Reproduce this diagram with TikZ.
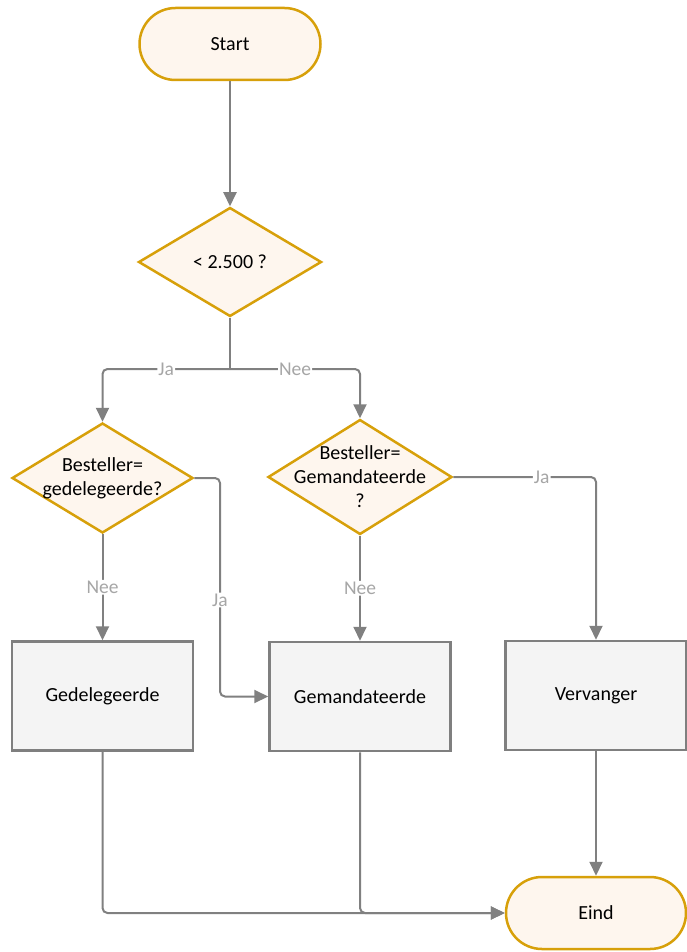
\documentclass[tikz,border=0pt]{standalone}
\usepackage{fontspec}
\setmainfont{Carlito}
\usetikzlibrary{arrows.meta,shapes.geometric}
\definecolor{gold}{HTML}{D7A00A}
\definecolor{cream}{HTML}{FEF6EE}
\definecolor{boxfill}{HTML}{F4F4F4}
\definecolor{boxline}{HTML}{7F7F7F}
\definecolor{conncol}{HTML}{808080}
\definecolor{lblcol}{HTML}{A6A6A6}
\tikzset{
  x=1pt, y=-1pt,
  every node/.style={font=\fontsize{20}{24}\selectfont},
  term/.style={draw=gold, line width=2.5pt, fill=cream, rectangle, rounded corners=36pt,
    minimum width=181pt, minimum height=72pt, inner sep=0pt},
  dec/.style={draw=gold, line width=2.5pt, fill=cream, diamond, inner sep=0pt},
  dtext/.style={align=center, inner sep=0pt},
  proc/.style={draw=boxline, line width=2.5pt, fill=boxfill, rectangle,
    minimum width=181pt, minimum height=109pt, inner sep=0pt},
  conn/.style={draw=conncol, line width=2pt, rounded corners=5pt,
    -{Triangle[length=14pt,width=13pt]}},
  plain/.style={draw=conncol, line width=2pt, rounded corners=5pt},
  lbl/.style={text=lblcol, fill=white, inner sep=1pt, font=\fontsize{19.5}{22}\selectfont},
}
\begin{document}
\begin{tikzpicture}
\useasboundingbox (0,0) rectangle (686,952);
\node[term] (start) at (230,44) {Start};
\node[dec, minimum width=183pt, minimum height=109pt] (d1) at (230,262) {};
\node[dtext] (t1) at (230,262) {< 2.500 ?};
\node[dec, minimum width=181pt, minimum height=110pt] (d2) at (102.5,478) {};
\node[dtext] (t2) at (102.5,478) {Besteller=\\gedelegeerde?};
\node[dec, minimum width=184pt, minimum height=115pt] (d3) at (360,477) {};
\node[dtext] (t3) at (360,477) {Besteller=\\Gemandateerde\\?};
\node[proc] (gedel) at (102.5,696) {Gedelegeerde};
\node[proc] (gem) at (360,696.5) {Gemandateerde};
\node[proc] (verv) at (596,695.5) {Vervanger};
\node[term, minimum width=180pt] (eind) at (596,913) {Eind};
\coordinate (split) at (230,369);
\coordinate (jbend) at (220,600);

\draw[conn] (start) -- (d1);
\draw[plain] (d1.south) -- (split);
\draw[conn] (split) -| node[lbl, pos=0.25] {Ja} (d2.north);
\draw[conn] (split) -| node[lbl, pos=0.25] {Nee} (d3.north);
\draw[conn] (d2.south) -- node[lbl] {Nee} (gedel.north);
\draw[conn] (d2.east) -| (jbend) node[lbl] {Ja} |- (gem.west);
\draw[conn] (d3.south) -- node[lbl] {Nee} (gem.north);
\draw[conn] (d3.east) -| node[lbl, pos=0.31] {Ja} (verv.north);
\draw[conn] (verv.south) -- (eind.north);
\draw[conn] (gedel.south) |- (eind.west);
\draw[conn] (gem.south) |- (eind.west);
\end{tikzpicture}
\end{document}
